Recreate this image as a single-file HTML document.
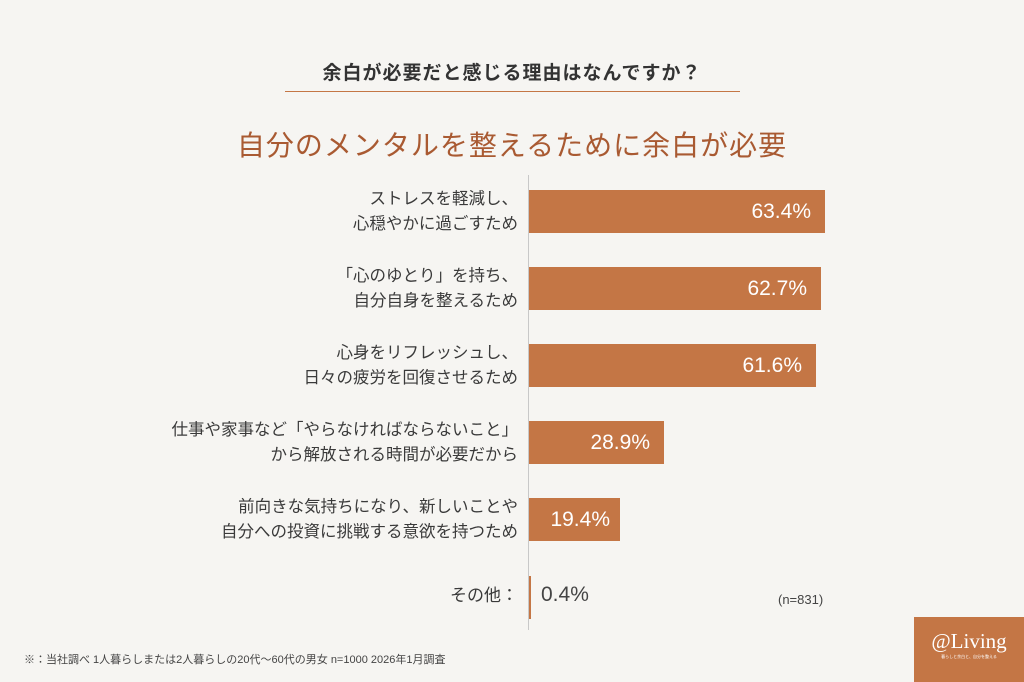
<!DOCTYPE html>
<html><head><meta charset="utf-8"><style>
body{margin:0;width:1024px;height:682px;background:#f6f5f2;font-family:"Liberation Sans","Noto Sans CJK JP",sans-serif;position:relative;overflow:hidden;color:#3a3a3a}
.a{position:absolute}
.bar{position:absolute;left:529px;height:43px;background:#c47645;color:#fff;font-size:21px;line-height:43px;text-align:right;box-sizing:border-box;padding-right:14px}
.lab{position:absolute;right:506px;text-align:right;font-size:16.5px;line-height:25px;color:#3a3a3a;white-space:nowrap}
</style></head><body>
<div class="a" style="left:0;width:1024px;top:58px;text-align:center;font-size:19px;font-weight:bold;color:#333;letter-spacing:1px">余白が必要だと感じる理由はなんですか？</div>
<div class="a" style="left:285px;width:455px;top:91px;height:1px;background:#c47645"></div>
<div class="a" style="left:0;width:1024px;top:124px;text-align:center;font-size:28px;color:#a95a32;letter-spacing:1px">自分のメンタルを整えるために余白が必要</div>
<div class="a" style="left:528px;top:175px;width:1px;height:455px;background:#c8c8c8"></div>

<div class="lab" style="top:187px">ストレスを軽減し、<br>心穏やかに過ごすため</div>
<div class="bar" style="top:190px;width:296px">63.4%</div>
<div class="lab" style="top:264px">「心のゆとり」を持ち、<br>自分自身を整えるため</div>
<div class="bar" style="top:267px;width:292px">62.7%</div>
<div class="lab" style="top:341px">心身をリフレッシュし、<br>日々の疲労を回復させるため</div>
<div class="bar" style="top:344px;width:287px">61.6%</div>
<div class="lab" style="top:418px">仕事や家事など「やらなければならないこと」<br>から解放される時間が必要だから</div>
<div class="bar" style="top:421px;width:135px">28.9%</div>
<div class="lab" style="top:495px">前向きな気持ちになり、新しいことや<br>自分への投資に挑戦する意欲を持つため</div>
<div class="bar" style="top:498px;width:91px;padding-right:10px">19.4%</div>
<div class="lab" style="top:583px;font-size:17px">その他：</div>
<div class="a" style="left:529px;top:576px;width:2px;height:43px;background:#c47645"></div>
<div class="a" style="left:541px;top:583px;font-size:21px;color:#444">0.4%</div>
<div class="a" style="left:778px;top:592px;font-size:13px;color:#444">(n=831)</div>
<div class="a" style="left:24px;top:651px;font-size:11px;color:#444">※：当社調べ 1人暮らしまたは2人暮らしの20代〜60代の男女 n=1000 2026年1月調査</div>
<div class="a" style="left:914px;top:617px;width:110px;height:65px;background:#c47645;color:#fff;text-align:center">
<div style="font-family:'Liberation Serif',serif;font-size:21px;margin-top:13px;line-height:22px">@Living</div>
<div style="font-size:4px;margin-top:2px">暮らしと余白と、自分を整える</div></div>
</body></html>
